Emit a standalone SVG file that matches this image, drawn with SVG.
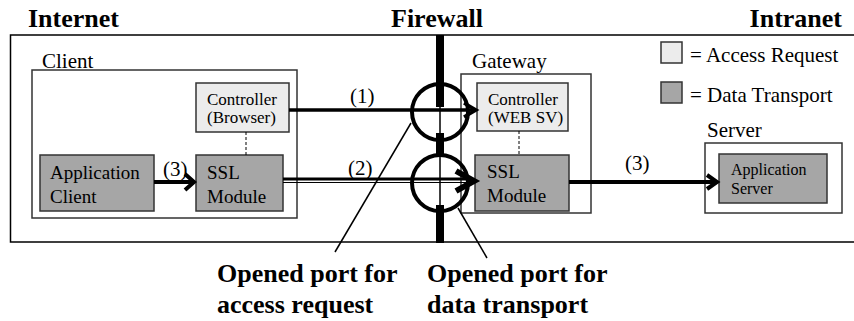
<svg xmlns="http://www.w3.org/2000/svg" width="854" height="321" viewBox="0 0 854 321" font-family="'Liberation Serif', Tinos, 'Times New Roman', 'DejaVu Serif', serif">
<style>
text{font-family:'Liberation Serif',Tinos,'Times New Roman','DejaVu Serif',serif;fill:#000}
.title{font-size:26px;font-weight:bold}
.lbl{font-size:21px}
.ctl{font-size:17px}
.mod{font-size:19px}
.frame{fill:#fff;stroke:#333;stroke-width:1.5}
.light{fill:#ececec;stroke:#333;stroke-width:1.5}
.dark{fill:#a6a6a6;stroke:#333;stroke-width:1.5}
.dash{stroke:#000;stroke-width:1;stroke-dasharray:3,2}
.ln{stroke:#000;fill:none}
</style>
<g id="background">
<path d="M856 35 H10.5 V242 H856" class="ln" stroke="#333" stroke-width="1.5"/>
</g>
<g id="titles">
<text class="title" x="28" y="27">Internet</text>
<text class="title" x="437" y="27" text-anchor="middle">Firewall</text>
<text class="title" x="842" y="27" text-anchor="end">Intranet</text>
</g>
<g id="legend">
<rect class="light" x="661" y="42" width="21" height="21"/>
<text class="lbl" x="690" y="62">= Access Request</text>
<rect class="dark" x="661" y="82" width="21" height="21"/>
<text class="lbl" x="690" y="102">= Data Transport</text>
</g>
<g id="client">
<text class="lbl" x="42" y="68">Client</text>
<rect class="frame" x="32" y="70" width="265" height="148"/>
</g>
<g id="client-controller">
<rect class="light" x="196" y="83" width="93" height="49"/>
<text class="ctl" x="207" y="105">Controller</text>
<text class="ctl" x="207" y="123">(Browser)</text>
</g>
<g id="application-client">
<rect class="dark" x="40" y="155" width="114" height="56"/>
<text class="mod" x="50" y="179">Application</text>
<text class="mod" x="50" y="203">Client</text>
</g>
<g id="client-ssl">
<rect class="dark" x="196" y="155" width="87" height="56"/>
<text class="mod" x="207" y="179">SSL</text>
<text class="mod" x="207" y="203">Module</text>
</g>
<g id="gateway">
<text class="lbl" x="472" y="68">Gateway</text>
<rect class="frame" x="461" y="74" width="130" height="139"/>
</g>
<g id="gateway-controller">
<rect class="light" x="477" y="83" width="91" height="48"/>
<text class="ctl" x="488" y="105">Controller</text>
<text class="ctl" x="488" y="123">(WEB SV)</text>
</g>
<g id="gateway-ssl">
<rect class="dark" x="475" y="155" width="94" height="56"/>
<text class="mod" x="487" y="178">SSL</text>
<text class="mod" x="487" y="202">Module</text>
</g>
<g id="server">
<text class="lbl" x="707" y="137">Server</text>
<rect class="frame" x="705" y="143" width="137" height="70"/>
</g>
<g id="application-server">
<rect class="dark" x="719" y="154" width="108" height="49"/>
<text class="ctl" x="731" y="175" style="font-size:16px">Application</text>
<text class="ctl" x="731" y="194" style="font-size:16px">Server</text>
</g>
<g id="firewall">
<line class="ln" x1="440" y1="35" x2="440" y2="243" stroke-width="1.5"/>
<line class="ln" x1="440" y1="35" x2="440" y2="107" stroke-width="8"/>
<line class="ln" x1="440" y1="133" x2="440" y2="155" stroke-width="8"/>
<line class="ln" x1="440" y1="205" x2="440" y2="243" stroke-width="8"/>
</g>
<g id="connectors">
<line class="dash" x1="246" y1="132" x2="246" y2="155"/>
<line class="dash" x1="519" y1="131" x2="519" y2="155"/>
<line class="ln" x1="289" y1="110" x2="474" y2="110" stroke-width="3.5"/>
<polyline class="ln" points="464,103 476,110 464,117" stroke-width="3.5"/>
<line class="ln" x1="283" y1="179" x2="472" y2="179" stroke-width="3"/>
<line class="ln" x1="283" y1="182.5" x2="472" y2="182.5" stroke-width="1"/>
<polyline class="ln" points="456,171 474,181 456,191" stroke-width="6"/>
<line class="ln" x1="154" y1="182" x2="193" y2="182" stroke-width="4"/>
<polyline class="ln" points="185,174 194,182 185,190" stroke-width="4"/>
<line class="ln" x1="569" y1="182" x2="716" y2="182" stroke-width="4"/>
<polyline class="ln" points="707,175 717,182 707,189" stroke-width="4"/>
<text class="lbl" x="350" y="103">(1)</text>
<text class="lbl" x="348" y="175">(2)</text>
<text class="lbl" x="163" y="176">(3)</text>
<text class="lbl" x="625" y="170">(3)</text>
</g>
<g id="ports">
<circle class="ln" cx="440" cy="112" r="28" stroke-width="4"/>
<circle class="ln" cx="440" cy="183" r="28" stroke-width="4"/>
<line class="ln" x1="335" y1="252" x2="411" y2="123" stroke-width="1.5"/>
<line class="ln" x1="458" y1="208" x2="487" y2="258" stroke-width="1.5"/>
<text class="title" x="217" y="282">Opened port for</text>
<text class="title" x="217" y="313">access request</text>
<text class="title" x="427" y="282">Opened port for</text>
<text class="title" x="427" y="313">data transport</text>
</g>
</svg>
